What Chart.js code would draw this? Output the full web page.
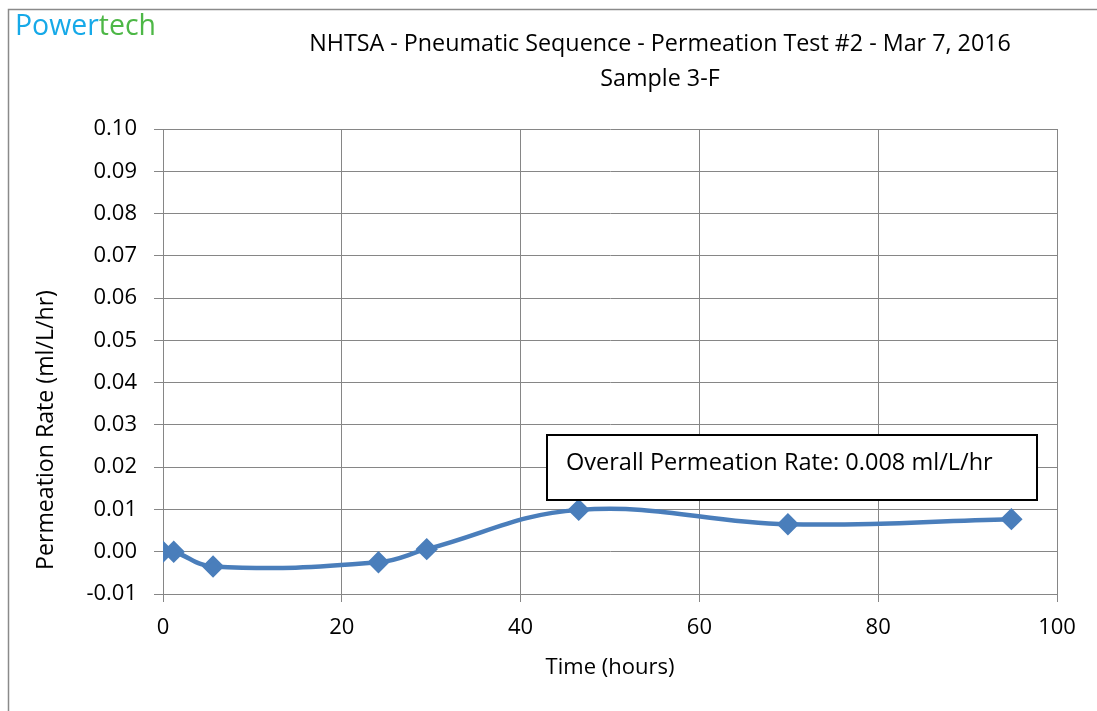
<!DOCTYPE html>
<html>
<head>
<meta charset="utf-8">
<script src="https://cdn.jsdelivr.net/npm/chart.js@4.4.0/dist/chart.umd.min.js"></script>
<style>
html, body { margin: 0; padding: 0; background: #fff; }
#box { position: relative; width: 1097px; height: 711px; }
</style>
</head>
<body>
<div id="box"><canvas id="grafico"></canvas></div>
<script>
// data
var horas = [0, 1.2, 5.6, 24.1, 29.5, 46.5, 69.9, 94.9];
var tasa = [0.000, 0.000, -0.0035, -0.0025, 0.0006, 0.0099, 0.0065, 0.0077];

var titulo = ['NHTSA - Pneumatic Sequence - Permeation Test #2 - Mar 7, 2016', 'Sample 3-F'];
var titulo_x = 'Time (hours)';
var titulo_y = 'Permeation Rate (ml/L/hr)';
var nota = 'Overall Permeation Rate: 0.008 ml/L/hr';
var logo = ['Power', 'tech'];

var x_min = 0, x_max = 100, x_paso = 20;
var y_min = -0.01, y_max = 0.10, y_paso = 0.01;

var fuente = '"Open Sans", "DejaVu Sans", sans-serif';
var gris = '#868686';
var azul = '#4a7ebb';

// font size so that a text gets a given width
var medida = document.createElement('canvas').getContext('2d');
function ajustar(texto, ancho) {
    medida.font = '100px ' + fuente;
    return 100 * ancho / medida.measureText(texto).width;
}

var extras = {
    id: 'extras',
    afterDraw: function (chart) {
        var c = chart.ctx;
        c.save();

        // outer frame of the chart object
        c.strokeStyle = '#8a8a8a';
        c.lineWidth = 1.5;
        c.strokeRect(8.5, 9.5, 1300, 900);

        // logo
        var t = ajustar(logo.join(''), 141);
        c.font = t + 'px ' + fuente;
        c.textAlign = 'left';
        c.textBaseline = 'alphabetic';
        c.fillStyle = '#16a9e8';
        c.fillText(logo[0], 15, 35);
        c.fillStyle = '#4db746';
        c.fillText(logo[1], 15 + c.measureText(logo[0]).width, 35);

        // title
        c.fillStyle = '#000';
        c.textAlign = 'center';
        c.font = ajustar(titulo[0], 702) + 'px ' + fuente;
        c.fillText(titulo[0], 660, 51);
        c.fillText(titulo[1], 660, 86);

        // y axis title
        c.save();
        c.translate(53, 430);
        c.rotate(-Math.PI / 2);
        c.font = ajustar(titulo_y, 280) + 'px ' + fuente;
        c.fillText(titulo_y, 0, 0);
        c.restore();

        // text box
        c.fillStyle = '#fff';
        c.fillRect(547, 435, 490, 65);
        c.strokeStyle = '#000';
        c.lineWidth = 2;
        c.strokeRect(547, 435, 490, 65);
        c.fillStyle = '#000';
        c.textAlign = 'left';
        c.font = ajustar(nota, 427) + 'px ' + fuente;
        c.fillText(nota, 566, 470);

        c.restore();
    }
};

var ctx_graf = document.getElementById('grafico').getContext('2d');
var chart_perm = new Chart(ctx_graf, {
    type: 'line',
    data: {
        datasets: [{
            data: horas.map(function (h, i) { return { x: h, y: tasa[i] }; }),
            borderColor: azul,
            backgroundColor: azul,
            borderWidth: 4.5,
            tension: 0.4,
            pointStyle: 'rectRot',
            pointRadius: 8,
            pointBackgroundColor: azul,
            pointBorderColor: azul,
            fill: false
        }]
    },
    options: {
        responsive: true,
        maintainAspectRatio: false,
        devicePixelRatio: 1,
        animation: false,
        layout: { padding: { top: 129, right: 40, left: 0, bottom: 0 } },
        plugins: {
            legend: { display: false },
            tooltip: { enabled: false }
        },
        scales: {
            x: {
                type: 'linear',
                min: x_min,
                max: x_max,
                afterFit: function (s) { s.height = 117; },
                ticks: {
                    stepSize: x_paso,
                    padding: 13,
                    color: '#000',
                    font: { family: fuente, size: 22 }
                },
                grid: { color: gris, lineWidth: 1, tickLength: 8 },
                border: { color: gris, width: 1 },
                title: {
                    display: true,
                    text: titulo_x,
                    color: '#000',
                    font: { family: fuente, size: 22 },
                    padding: { top: 0, bottom: 30 }
                }
            },
            y: {
                min: y_min,
                max: y_max,
                afterFit: function (s) { s.width = 163; },
                ticks: {
                    stepSize: y_paso,
                    padding: 17,
                    color: '#000',
                    font: { family: fuente, size: 22 },
                    callback: function (v) { return v.toFixed(2); }
                },
                grid: { color: gris, lineWidth: 1, tickLength: 9 },
                border: { color: gris, width: 1 }
            }
        }
    },
    plugins: [extras]
});
</script>
</body>
</html>
